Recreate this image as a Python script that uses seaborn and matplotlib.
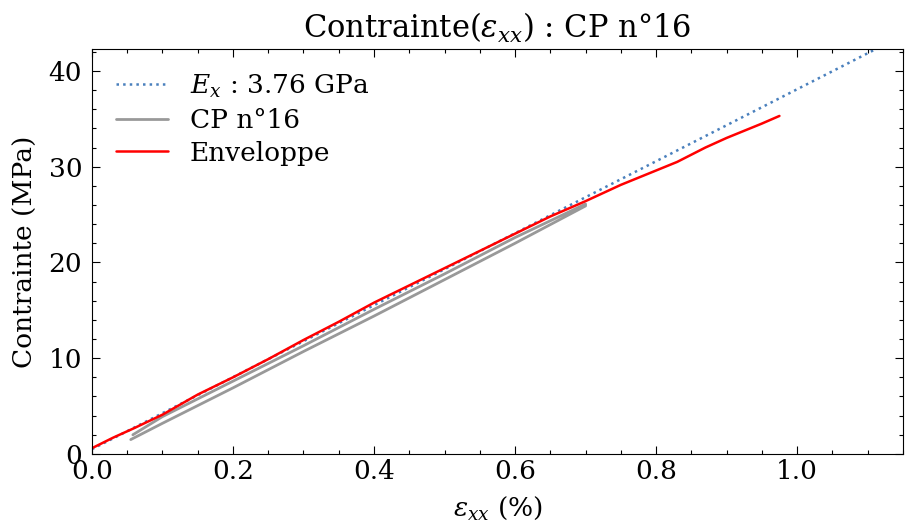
import numpy as np
import pandas as pd
import matplotlib
matplotlib.use('Agg')
import matplotlib.pyplot as plt
from matplotlib.ticker import MultipleLocator
import seaborn as sns

# droite de module E_x (bornes)
ex_x = [0.0, 1.20]
ex_y = [0.5, 45.6]

# courbe CP n°16 (charge puis décharge)
cp_x = [0.055, 0.10, 0.20, 0.30, 0.40, 0.50, 0.60, 0.70,
        0.70, 0.60, 0.50, 0.40, 0.30, 0.20, 0.10, 0.058]
cp_y = [1.5, 3.2, 6.9, 10.7, 14.4, 18.2, 22.0, 25.9,
        26.1, 22.6, 18.8, 15.1, 11.3, 7.6, 3.9, 2.0]

# enveloppe
env_x = [0.0, 0.03, 0.06, 0.10, 0.15, 0.20, 0.25, 0.30, 0.35, 0.40, 0.45, 0.50,
         0.55, 0.60, 0.65, 0.70, 0.75, 0.80, 0.83, 0.87, 0.90, 0.95, 0.975]
env_y = [0.6, 1.7, 2.7, 4.1, 6.2, 8.0, 9.9, 11.9, 13.8, 15.8, 17.6, 19.4,
         21.2, 23.0, 24.8, 26.4, 28.1, 29.6, 30.5, 32.0, 33.0, 34.5, 35.3]

sns.set_style('ticks')
plt.rcParams['font.family'] = ['DejaVu Serif']
plt.rcParams['mathtext.fontset'] = 'dejavuserif'
plt.rcParams['font.size'] = 19
for k in ['text.color', 'axes.labelcolor', 'xtick.color', 'ytick.color', 'axes.edgecolor']:
    plt.rcParams[k] = 'black'

fig = plt.figure(figsize=(9.06, 5.26), dpi=100)
ax = fig.add_axes([0.1015, 0.137, 0.895, 0.770])

sns.lineplot(x=ex_x, y=ex_y, ax=ax, color='#4a80bd', linestyle=':', linewidth=1.8,
             label=r'$E_x$ : 3.76 GPa')
sns.lineplot(x=cp_x, y=cp_y, ax=ax, sort=False, estimator=None, color='#999999',
             linewidth=2.0, label='CP n°16')
sns.lineplot(x=env_x, y=env_y, ax=ax, sort=False, estimator=None, color='red',
             linewidth=1.8, label='Enveloppe')

ax.set_xlim(0, 1.15)
ax.set_ylim(0, 42.3)
ax.xaxis.set_major_locator(MultipleLocator(0.2))
ax.xaxis.set_minor_locator(MultipleLocator(0.05))
ax.yaxis.set_major_locator(MultipleLocator(10))
ax.yaxis.set_minor_locator(MultipleLocator(2))
ax.tick_params(which='both', direction='in', top=True, right=True, labelsize=19)
ax.tick_params(which='major', length=6, width=0.8, pad=4)
ax.tick_params(axis='y', which='major', pad=7)
ax.tick_params(which='minor', length=3, width=0.8)
for s in ax.spines.values():
    s.set_linewidth(0.8)

ax.set_xlabel(r'$\varepsilon_{xx}$ (%)', fontsize=19, labelpad=7)
ax.set_ylabel('Contrainte (MPa)', fontsize=19, labelpad=8)
ax.set_title(r'Contrainte($\varepsilon_{xx}$) : CP n°16', fontsize=22, pad=8)
ax.legend(loc='upper left', frameon=False, fontsize=19, handlelength=2.0,
          handletextpad=0.8, borderaxespad=0.5, labelspacing=0.3)

fig.savefig('out.png', dpi=100)
